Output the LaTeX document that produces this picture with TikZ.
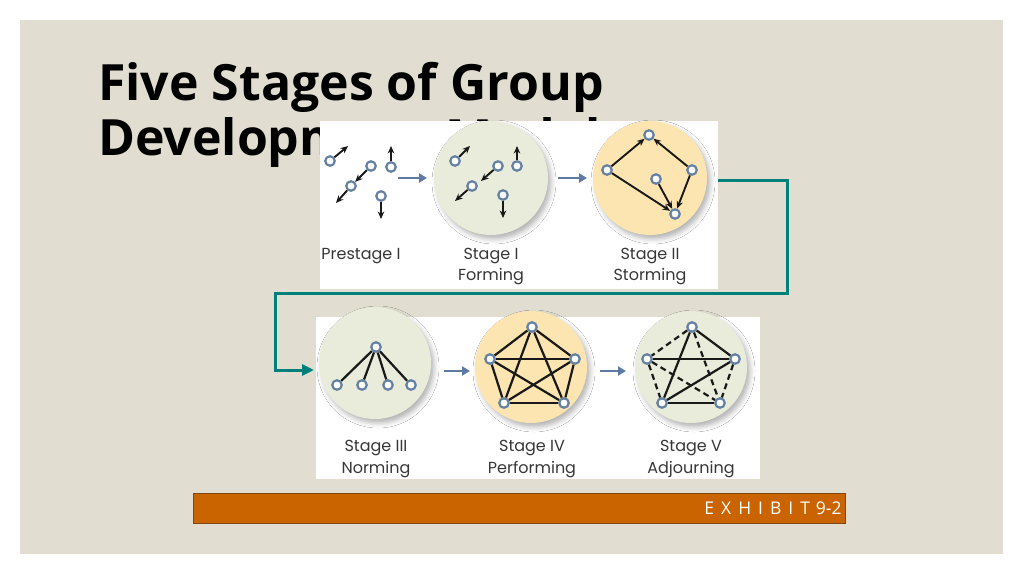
\documentclass[tikz,border=0pt]{standalone}
\usepackage{fontspec}
\setmainfont{Open Sans}
\newfontfamily\lblfont{Poppins}
\usetikzlibrary{arrows.meta,calc,shadows.blur}
\definecolor{slidebg}{RGB}{225,222,209}
\definecolor{tealline}{RGB}{0,128,122}
\definecolor{orangebar}{RGB}{201,100,0}
\definecolor{barborder}{RGB}{130,70,15}
\definecolor{greenfill}{RGB}{233,236,218}
\definecolor{yellowfill}{RGB}{252,229,176}
\definecolor{nodeblue}{RGB}{100,128,162}
\definecolor{flowblue}{RGB}{92,122,163}
\definecolor{lblgray}{RGB}{55,55,55}
\tikzset{
  pt/.style={circle,draw=nodeblue,line width=2.2pt,fill=white,minimum size=9.5pt,inner sep=0pt},
  stagecirc/.style={circle,inner sep=0pt,blur shadow={shadow xshift=3pt,shadow yshift=-4pt,shadow blur radius=5pt,shadow opacity=30}},
  link/.style={line width=2.2pt,black!90},
  dlink/.style={link,dash pattern=on 6pt off 4pt},
  arr/.style={line width=1.9pt,black!90,-{Stealth[length=7.5pt,width=6.5pt]}},
  flow/.style={draw=flowblue,line width=2.5pt,-{Triangle[length=8pt,width=9pt]}},
  lbl/.style={font=\lblfont\fontsize{16}{21.5}\selectfont,text=lblgray,align=center,inner sep=0pt,anchor=north},
  panel/.style={fill=white,inner sep=0pt,anchor=north west},
  titlestyle/.style={font=\bfseries\fontsize{50}{54}\selectfont,anchor=base west,inner sep=0pt},
}
\begin{document}
\begin{tikzpicture}[x=1pt,y=-1pt]
\useasboundingbox (0,0) rectangle (1024,575);
\fill[white] (0,0) rectangle (1024,575);
\fill[slidebg] (20,20) rectangle (1003,554);
% title
\node[titlestyle] (title1) at (98,101) {Five Stages of Group};
\node[titlestyle] (title2) at (98,155) {Development Model};
% panels
\node[panel,minimum width=398pt,minimum height=168pt] (topimg) at (320,121) {};
\node[panel,minimum width=444pt,minimum height=162pt] (botimg) at (316,317) {};
% stage circles
\node[stagecirc,fill=greenfill,minimum size=114pt] (s1) at (491,178) {};
\node[stagecirc,fill=yellowfill,minimum size=114pt] (s2) at (650,178) {};
\node[stagecirc,fill=greenfill,minimum size=112pt] (s3) at (375,363) {};
\node[stagecirc,fill=yellowfill,minimum size=112pt] (s4) at (531,367) {};
\node[stagecirc,fill=greenfill,minimum size=112pt] (s5) at (691,367) {};
% Prestage I
\node[pt] (p1) at (330,161) {};
\node[pt] (p2) at (371,166) {};
\node[pt] (p3) at (351,186) {};
\node[pt] (p4) at (391,167) {};
\node[pt] (p5) at (381,196) {};
\coordinate (p1e) at (348,146);
\coordinate (p3e) at (336,203);
\coordinate (p4e) at (391,146);
\coordinate (p5e) at (381,219);
\draw[arr] (p1) -- (p1e);
\draw[arr] (p2) -- (p3);
\draw[arr] (p3) -- (p3e);
\draw[arr] (p4) -- (p4e);
\draw[arr] (p5) -- (p5e);
% Stage I
\node[pt] (f1) at (455,161) {};
\node[pt] (f2) at (498,166) {};
\node[pt] (f3) at (517,166) {};
\node[pt] (f4) at (472,186) {};
\node[pt] (f5) at (503,195) {};
\coordinate (f1e) at (470,146);
\coordinate (f2e) at (481,181);
\coordinate (f3e) at (517,146);
\coordinate (f4e) at (455,201);
\coordinate (f5e) at (503,218);
\draw[arr] (f1) -- (f1e);
\draw[arr] (f2) -- (f2e);
\draw[arr] (f3) -- (f3e);
\draw[arr] (f4) -- (f4e);
\draw[arr] (f5) -- (f5e);
% Stage II
\node[pt] (t) at (649,135) {};
\node[pt] (l) at (607,170) {};
\node[pt] (r) at (692,170) {};
\node[pt] (m) at (656,179) {};
\node[pt] (b) at (675,214) {};
\draw[arr] (l) -- (t);
\draw[arr] (r) -- (t);
\draw[arr] (l) -- (b);
\draw[arr] (m) -- (b);
\draw[arr] (r) -- (b);
% Stage III
\node[pt] (n0) at (376,347) {};
\node[pt] (n1) at (337,385) {};
\node[pt] (n2) at (362,385) {};
\node[pt] (n3) at (388,385) {};
\node[pt] (n4) at (411,385) {};
\foreach \k in {n1,n2,n3,n4} \draw[link] (n0) -- (\k);
% Stage IV
\node[pt] (a1) at (532,327) {};
\node[pt] (a2) at (490,359) {};
\node[pt] (a3) at (575,359) {};
\node[pt] (a4) at (504,403) {};
\node[pt] (a5) at (564,403) {};
\foreach \u/\v in {a1/a2,a1/a3,a1/a4,a1/a5,a2/a3,a2/a4,a2/a5,a3/a4,a3/a5,a4/a5} \draw[link] (\u) -- (\v);
% Stage V
\node[pt] (v1) at (692,327) {};
\node[pt] (v2) at (647,359) {};
\node[pt] (v3) at (735,359) {};
\node[pt] (v4) at (662,403) {};
\node[pt] (v5) at (720,403) {};
\foreach \u/\v in {v1/v3,v2/v3,v1/v4,v3/v4,v4/v5} \draw[link] (\u) -- (\v);
\foreach \u/\v in {v1/v2,v1/v5,v2/v4,v2/v5,v3/v5} \draw[dlink] (\u) -- (\v);
% flow arrows
\coordinate (fa1) at (398,178); \coordinate (fb1) at (427,178);
\coordinate (fa2) at (558,178); \coordinate (fb2) at (587,178);
\coordinate (fa3) at (444,371); \coordinate (fb3) at (470,371);
\coordinate (fa4) at (600,371); \coordinate (fb4) at (626,371);
\draw[flow] (fa1) -- (fb1);
\draw[flow] (fa2) -- (fb2);
\draw[flow] (fa3) -- (fb3);
\draw[flow] (fa4) -- (fb4);
% labels
\node[lbl] (lp) at (361,248) {Prestage I};
\node[lbl] (l1) at (491,248) {Stage I\\Forming};
\node[lbl] (l2) at (650,248) {Stage II\\Storming};
\node[lbl] (l3) at (376,440) {Stage III\\Norming};
\node[lbl] (l4) at (532,440) {Stage IV\\Performing};
\node[lbl] (l5) at (691,440) {Stage V\\Adjourning};
% teal connector
\coordinate (cr) at (787,293);
\coordinate (cl) at (275,293);
\coordinate (entry) at (314,370);
\draw[tealline,line width=3pt,-{Triangle[length=12pt,width=11pt]}] (topimg.east |- 0,180) -| (cr) -- (cl) |- (entry);
% exhibit bar
\node[draw=barborder,fill=orangebar,line width=0.8pt,minimum width=652pt,minimum height=30pt,inner sep=0pt,anchor=north west] (bar) at (193,493) {};
\node[anchor=east,text=white,inner sep=0pt,font=\fontsize{17.5}{20}\selectfont] (ex) at ([xshift=-4pt]bar.east) {E\hspace{7pt}X\hspace{7pt}H\hspace{7pt}I\hspace{7pt}B\hspace{7pt}I\hspace{7pt}T\hspace{6pt}9-2};
\end{tikzpicture}
\end{document}
